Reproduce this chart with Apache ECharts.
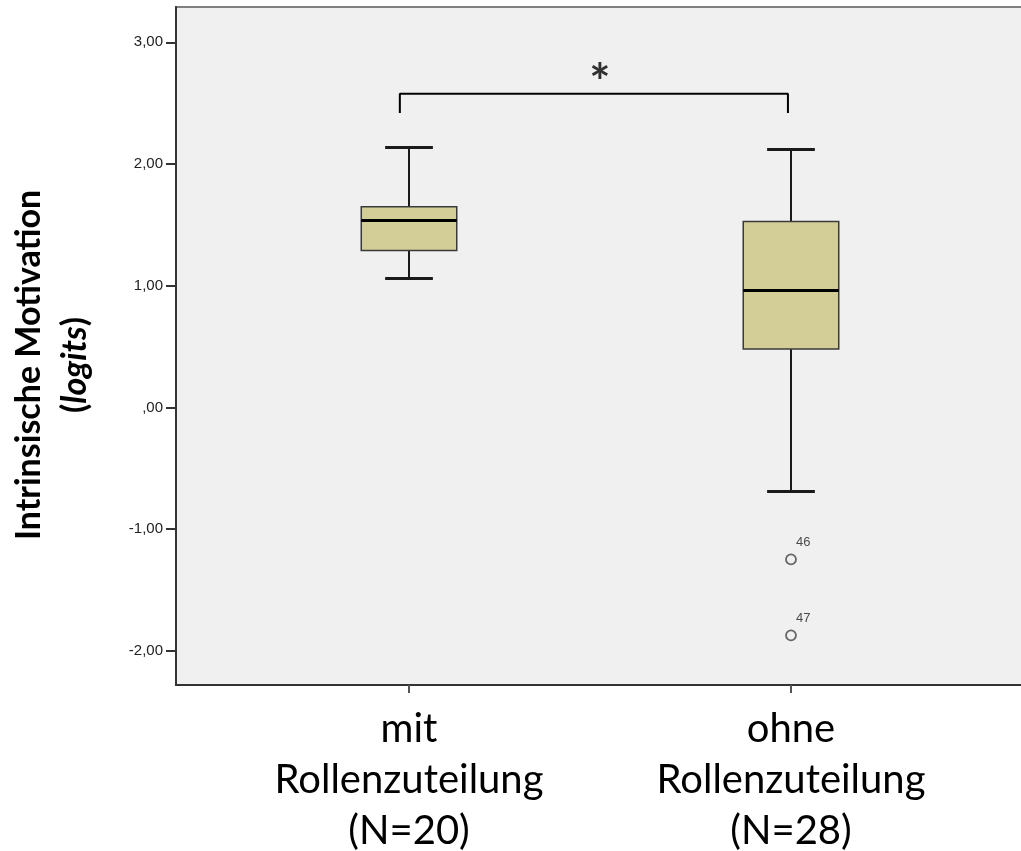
<!DOCTYPE html>
<html>
<head>
<meta charset="utf-8">
<script src="https://cdn.jsdelivr.net/npm/echarts@6/dist/echarts.min.js"></script>
<style>
  html, body { margin: 0; padding: 0; background: #fff; }
  #chart { width: 1021px; height: 851px; }
</style>
</head>
<body>
<div id="chart"></div>
<script>
// groups, placed at x = 0 and x = 1
var groups = ['mit\nRollenzuteilung\n(N=20)', 'ohne\nRollenzuteilung\n(N=28)'];
var groupPos = [0, 1];

// box statistics (logits)
var whiskerLow  = [1.06, -0.69];
var quart1      = [1.29, 0.48];
var medians     = [1.535, 0.96];
var quart3      = [1.65, 1.527];
var whiskerHigh = [2.135, 2.12];

// outliers of the second group
var outlierX = [1, 1];
var outlierY = [-1.248, -1.872];
var outlierIds = ['46', '47'];

// significance bracket
var bracketX = [-0.024, -0.024, 0.992, 0.992];
var bracketY = [2.42, 2.578, 2.578, 2.42];
var starPos = [0.5, 2.66];

var yTicks = [-2, -1, 0, 1, 2, 3];

var chart = echarts.init(document.getElementById('chart'));

var boxData = groupPos.map(function (x, i) {
	return [x, whiskerLow[i], quart1[i], medians[i], quart3[i], whiskerHigh[i]];
});

function renderBox(params, api) {
	var x = api.value(0);
	var half = api.size([0.25, 0])[0] / 2;
	var capHalf = half / 2;
	var lo = api.coord([x, api.value(1)]);
	var q1 = api.coord([x, api.value(2)]);
	var md = api.coord([x, api.value(3)]);
	var q3 = api.coord([x, api.value(4)]);
	var hi = api.coord([x, api.value(5)]);
	var cx = lo[0];
	var lineStyle = { stroke: '#1a1a1a', lineWidth: 2 };
	return {
		type: 'group',
		children: [
			{ type: 'line', shape: { x1: cx, y1: hi[1], x2: cx, y2: q3[1] }, style: lineStyle },
			{ type: 'line', shape: { x1: cx, y1: q1[1], x2: cx, y2: lo[1] }, style: lineStyle },
			{ type: 'line', shape: { x1: cx - capHalf, y1: hi[1], x2: cx + capHalf, y2: hi[1] }, style: { stroke: '#1a1a1a', lineWidth: 3 } },
			{ type: 'line', shape: { x1: cx - capHalf, y1: lo[1], x2: cx + capHalf, y2: lo[1] }, style: { stroke: '#1a1a1a', lineWidth: 3 } },
			{ type: 'rect', shape: { x: cx - half, y: q3[1], width: half * 2, height: q1[1] - q3[1] },
			  style: { fill: '#d3ce98', stroke: '#3a3a3a', lineWidth: 1.5 } },
			{ type: 'line', shape: { x1: cx - half, y1: md[1], x2: cx + half, y2: md[1] }, style: { stroke: '#000', lineWidth: 3 } }
		]
	};
}

var option = {
	animation: false,
	backgroundColor: '#ffffff',
	grid: {
		left: 176, top: 7, right: -3, bottom: 166,
		outerBoundsMode: 'none',
		containLabel: false,
		show: true,
		backgroundColor: '#f0f0f0',
		borderColor: '#808080',
		borderWidth: 2
	},
	xAxis: {
		type: 'value',
		min: -0.61,
		max: 1.61,
		splitLine: { show: false },
		axisLine: { show: true, onZero: false, lineStyle: { color: '#333', width: 2 } },
		axisTick: { show: true, customValues: groupPos, length: 8, lineStyle: { color: '#555', width: 2 } },
		axisLabel: {
			customValues: groupPos,
			formatter: function (v) { return groups[Math.round(v)]; },
			fontFamily: 'Lato',
			fontSize: 40,
			lineHeight: 51,
			color: '#000',
			margin: 19
		}
	},
	yAxis: {
		type: 'value',
		min: -2.28,
		max: 3.29,
		splitLine: { show: false },
		axisLine: { show: true, onZero: false, lineStyle: { color: '#333', width: 2 } },
		axisTick: { show: true, customValues: yTicks, length: 10, lineStyle: { color: '#333', width: 2 } },
		axisLabel: {
			customValues: yTicks,
			formatter: function (v) {
				if (v === 0) return ',00';
				return v.toFixed(2).replace('.', ',');
			},
			fontFamily: 'Liberation Sans',
			fontSize: 15,
			color: '#222',
			margin: 13
		},
		name: '{b|Intrinsische Motivation}\n{b|(}{i|logits}{b|)}',
		nameLocation: 'middle',
		nameRotate: 90,
		nameGap: 78,
		nameTextStyle: {
			padding: [0, 38, 0, 0],
			rich: {
				b: { fontFamily: 'Lato', fontWeight: 'bold', fontSize: 34, color: '#000', lineHeight: 46, align: 'center' },
				i: { fontFamily: 'Lato', fontWeight: 'bold', fontStyle: 'italic', fontSize: 34, color: '#000', lineHeight: 46 }
			}
		}
	},
	series: [
		{
			type: 'custom',
			renderItem: renderBox,
			data: boxData,
			encode: { x: 0, y: [1, 2, 3, 4, 5] },
			z: 3
		},
		{
			type: 'scatter',
			data: outlierX.map(function (x, i) { return [x, outlierY[i], outlierIds[i]]; }),
			symbol: 'circle',
			symbolSize: 10,
			itemStyle: { color: 'transparent', borderColor: '#444', borderWidth: 1.8 },
			label: {
				show: true,
				formatter: function (p) { return p.data[2]; },
				position: [11, -18],
				fontFamily: 'Liberation Sans',
				fontSize: 13,
				color: '#222'
			},
			z: 4
		},
		{
			type: 'line',
			data: bracketX.map(function (x, i) { return [x, bracketY[i]]; }),
			symbol: 'none',
			lineStyle: { color: '#000', width: 2 },
			z: 4
		},
		{
			type: 'scatter',
			data: [starPos],
			symbolSize: 0,
			label: {
				show: true,
				formatter: '*',
				position: 'inside',
				fontFamily: 'Lato',
				fontWeight: 'bold',
				fontSize: 50,
				color: '#000'
			},
			z: 4
		}
	]
};

chart.setOption(option);
</script>
</body>
</html>
